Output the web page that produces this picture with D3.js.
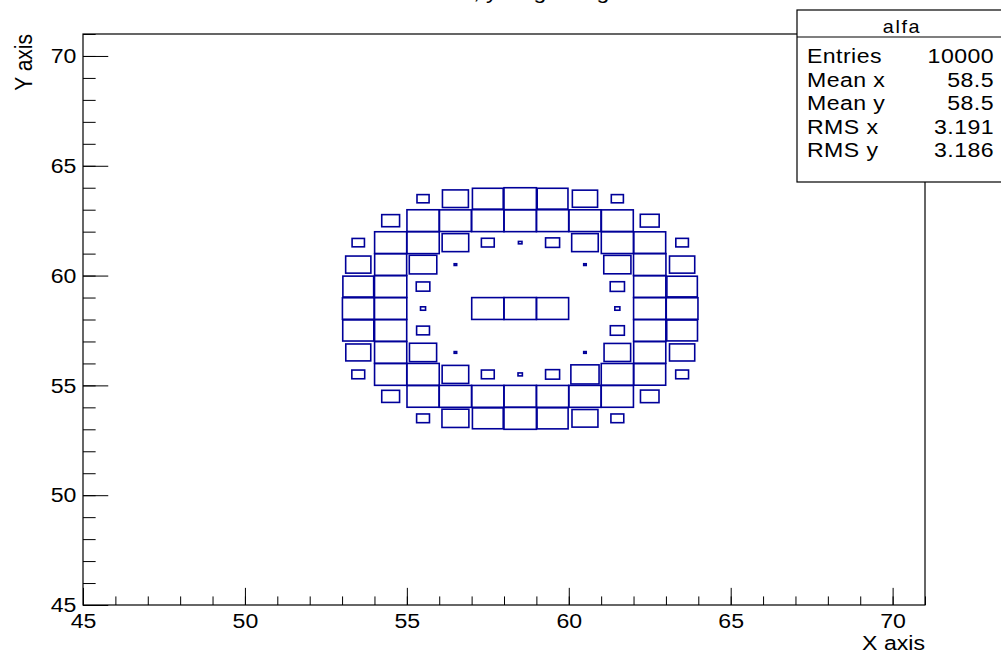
<!DOCTYPE html>
<html>
<head>
<meta charset="utf-8">
<script src="https://cdn.jsdelivr.net/npm/d3@7"></script>
<style>
  body { margin: 0; background: #fff; }
  svg text { font-family: "Liberation Sans", Arial, Helvetica, sans-serif; fill: #000; }
</style>
</head>
<body>
<div id="chart"></div>
<script>
// lower edges of the filled bins (bin width = 1)
const xBins = [53, 54, 55, 56, 57, 58, 59, 60, 61, 62, 63]
// rows listed top to bottom
const yBins = [63, 62, 61, 60, 59, 58, 57, 56, 55, 54, 53]
// bin contents, one row per yBins entry, columns follow xBins
const counts = [
  [  0,   0,  23, 106, 149, 165, 149, 100,  23,   0,   0],
  [  0,  50, 163, 160, 164, 165, 163, 162, 160,  56,   0],
  [ 24, 162, 165, 111,  26,   2,  31, 111, 162, 160,  25],
  [100, 161, 119,   1,   0,   0,   0,   1, 116, 165, 100],
  [149, 164,  29,   0,   0,   0,   0,   0,  32, 163, 146],
  [158, 164,   4,   0, 163, 165, 162,   0,   4, 164, 158],
  [152, 162,  26,   0,   0,   0,   0,   0,  31, 163, 149],
  [ 98, 163, 116,   1,   0,   0,   0,   1, 111, 162, 100],
  [ 26, 163, 165, 111,  26,   3,  31, 125, 163, 160,  26],
  [  0,  50, 162, 164, 163, 165, 163, 164, 163,  54,   0],
  [  0,   0,  26, 114, 149, 165, 152, 106,  26,   0,   0]
]
const xTicks = [45, 50, 55, 60, 65, 70]
const yTicks = [45, 50, 55, 60, 65, 70]
const statLabels = ["Entries", "Mean x", "Mean y", "RMS x", "RMS y"]
const statValues = ["10000", "58.5", "58.5", "3.191", "3.186"]

const width = 1001
const height = 658
const frame = {left: 83, right: 925, top: 34, bottom: 605}
const stretch = 1.1   // the picture is a bit wider than tall

const svg = d3.select("#chart")
  .append("svg")
  .attr("width", width)
  .attr("height", height)

const x = d3.scaleLinear().domain([45, 71]).range([frame.left, frame.right])
const y = d3.scaleLinear().domain([45, 71]).range([frame.bottom, frame.top])

function label(sel, px, py, str, anchor, size) {
  return sel.append("text")
    .attr("transform", "translate(" + px + "," + py + ") scale(" + stretch + ",1)")
    .attr("text-anchor", anchor)
    .style("font-size", size + "px")
    .text(str)
}

// title, mostly above the canvas
label(svg, 436, -1, "alfa, y single ring", "start", 21)

// boxes: area proportional to the bin content
const zmax = d3.max(counts.flat())
const cells = []
yBins.forEach(function(yb, i) {
  xBins.forEach(function(xb, j) {
    if (counts[i][j] > 0) cells.push({x: xb, y: yb, z: counts[i][j]})
  })
})

svg.append("g")
  .selectAll("rect")
  .data(cells)
  .enter()
  .append("rect")
  .attr("x", function(d) { const r = Math.sqrt(d.z / zmax); return x(d.x + 0.5 - r / 2) })
  .attr("y", function(d) { const r = Math.sqrt(d.z / zmax); return y(d.y + 0.5 + r / 2) })
  .attr("width", function(d) { const r = Math.sqrt(d.z / zmax); return x(d.x + 0.5 + r / 2) - x(d.x + 0.5 - r / 2) })
  .attr("height", function(d) { const r = Math.sqrt(d.z / zmax); return y(d.y + 0.5 - r / 2) - y(d.y + 0.5 + r / 2) })
  .attr("fill", "none")
  .attr("stroke", "#000099")
  .attr("stroke-width", 1.6)

// axes, ticks pointing into the frame
const fh = frame.bottom - frame.top
const fw = frame.right - frame.left

function styleAxis(g) {
  g.select(".domain").remove()
  g.selectAll("line").attr("stroke", "#000")
  g.selectAll("text")
    .attr("font-size", 21)
    .attr("transform", "scale(" + stretch + ",1)")
}

svg.append("g")
  .attr("transform", "translate(0," + frame.bottom + ")")
  .call(d3.axisBottom(x).tickValues(d3.range(45, 72)).tickSize(-fh * 0.015).tickFormat(""))
  .call(styleAxis)
svg.append("g")
  .attr("transform", "translate(0," + frame.bottom + ")")
  .call(d3.axisBottom(x).tickValues(xTicks).tickSize(-fh * 0.03).tickPadding(8).tickFormat(d3.format("d")))
  .call(styleAxis)

svg.append("g")
  .attr("transform", "translate(" + frame.left + ",0)")
  .call(d3.axisLeft(y).tickValues(d3.range(45, 72)).tickSize(-fw * 0.015).tickFormat(""))
  .call(styleAxis)
svg.append("g")
  .attr("transform", "translate(" + frame.left + ",0)")
  .call(d3.axisLeft(y).tickValues(yTicks).tickSize(-fw * 0.03).tickPadding(6).tickFormat(d3.format("d")))
  .call(styleAxis)

// frame
svg.append("rect")
  .attr("x", frame.left)
  .attr("y", frame.top)
  .attr("width", fw)
  .attr("height", fh)
  .attr("fill", "none")
  .attr("stroke", "#000")
  .attr("stroke-width", 1.2)

// axis titles
label(svg, frame.right, 650, "X axis", "end", 21)
svg.append("text")
  .attr("transform", "translate(32," + frame.top + ") scale(" + stretch + ",1) rotate(-90)")
  .attr("text-anchor", "end")
  .style("font-size", "21px")
  .text("Y axis")

// stats box
const stats = svg.append("g")
stats.append("rect")
  .attr("x", 797)
  .attr("y", 10)
  .attr("width", 210)
  .attr("height", 172)
  .attr("fill", "#fff")
  .attr("stroke", "#000")
  .attr("stroke-width", 1.2)
stats.append("line")
  .attr("x1", 797).attr("x2", 1007)
  .attr("y1", 37).attr("y2", 37)
  .attr("stroke", "#000")
  .attr("stroke-width", 1.2)
label(stats, 902, 33, "alfa", "middle", 18)
  .style("letter-spacing", "1.5px")
statLabels.forEach(function(s, i) {
  const base = 63 + i * 23.5
  label(stats, 807, base, s, "start", 21).style("letter-spacing", "0.4px")
  label(stats, 994, base, statValues[i], "end", 21).style("letter-spacing", "0.4px")
})
</script>
</body>
</html>
